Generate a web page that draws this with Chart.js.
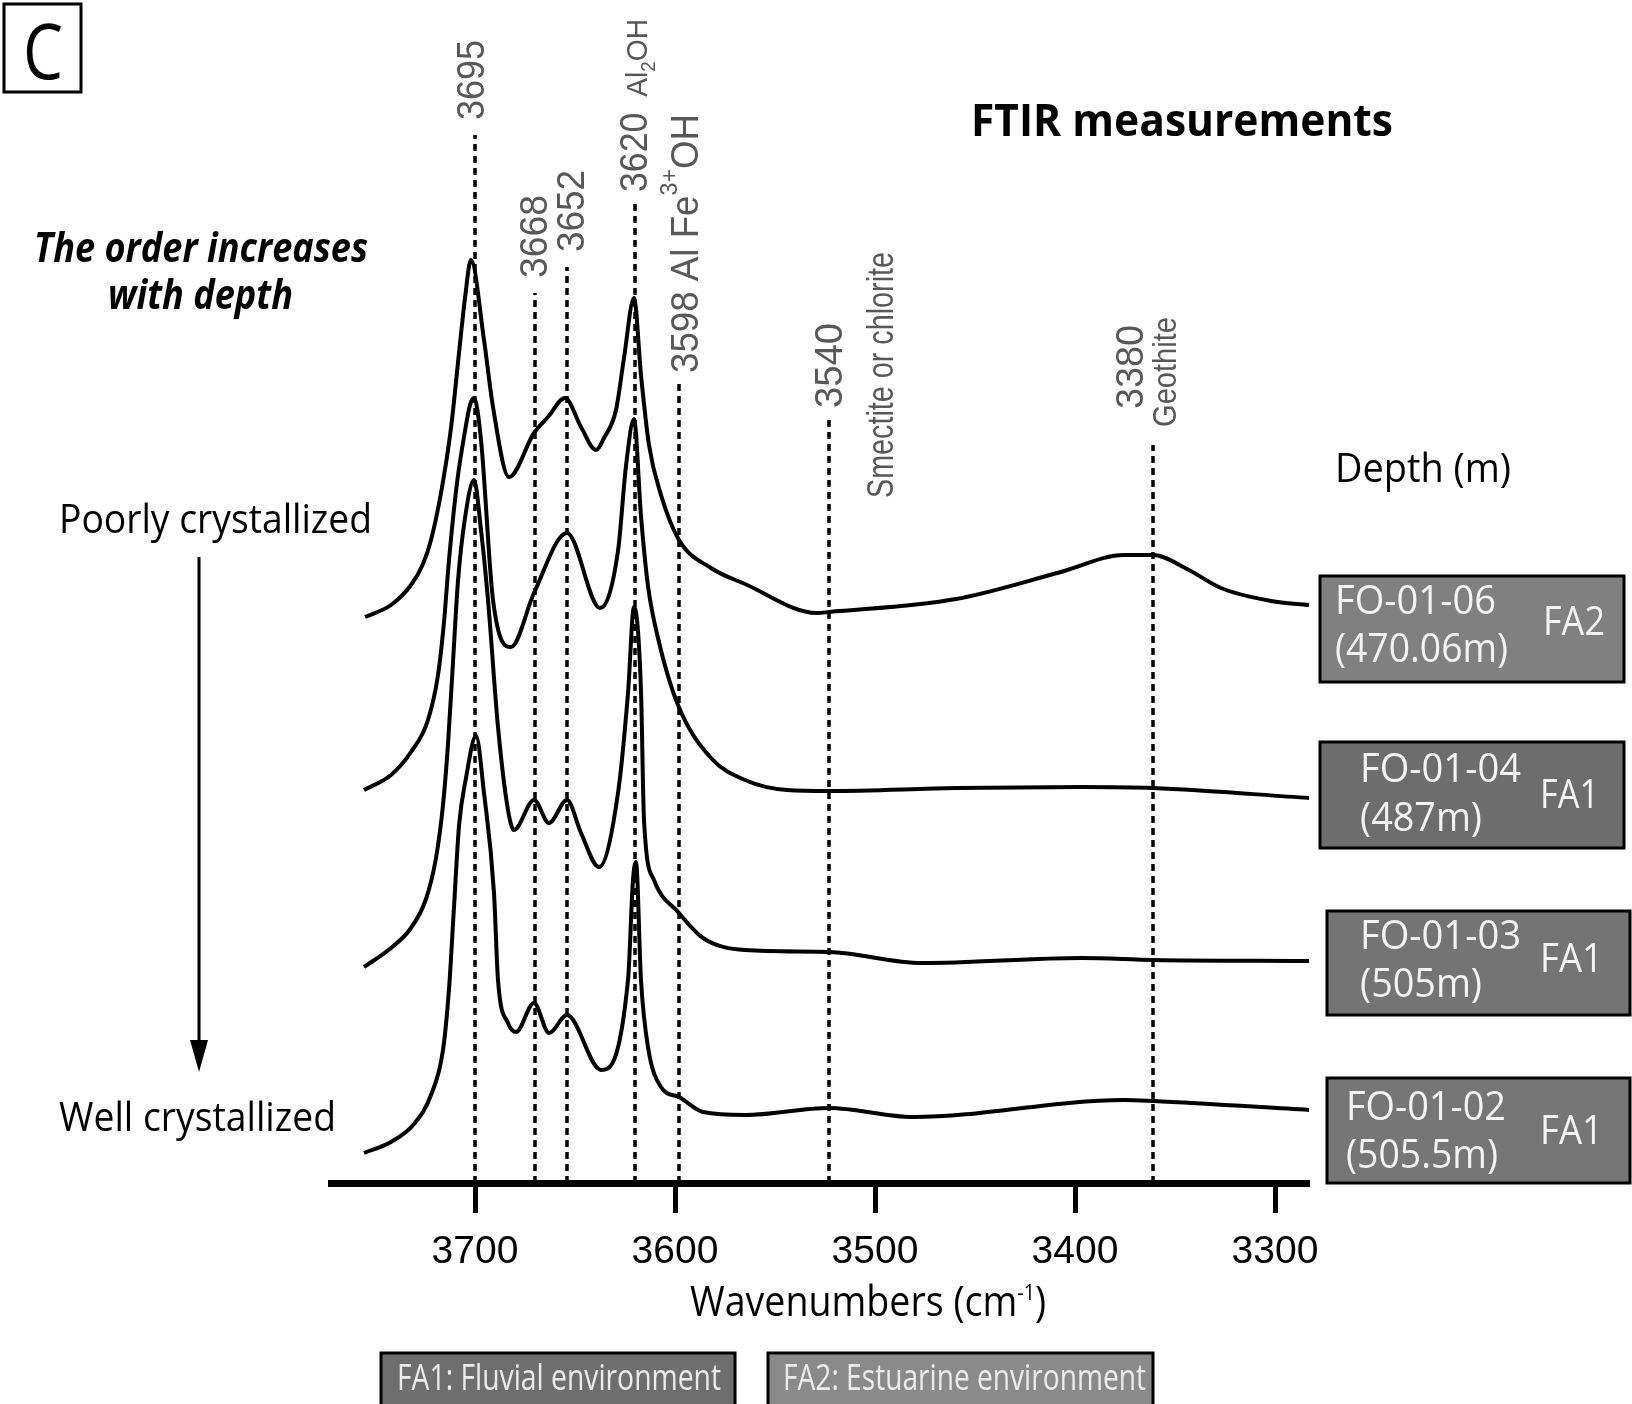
<!DOCTYPE html>
<html>
<head>
<meta charset="utf-8">
<style>
  html, body { margin: 0; padding: 0; background: #fff; }
  #wrap { width: 1632px; height: 1404px; }
</style>
<script src="https://cdn.jsdelivr.net/npm/chart.js@4.4.1/dist/chart.umd.min.js"></script>
</head>
<body>
<div id="wrap"><canvas id="ftir" width="1632" height="1404"></canvas></div>
<script>
// bottom axis ticks (cm-1)
const xTicks = [3700, 3600, 3500, 3400, 3300];

// spectra, offset absorbance (arbitrary units)
const wnFO0106 = [3755, 3742, 3732, 3726, 3722, 3717, 3712, 3708, 3705, 3702, 3695.5, 3691, 3683, 3670.5, 3663.5, 3655, 3647, 3639.5, 3635.5, 3629.5, 3625.5, 3620.5, 3617, 3613, 3607, 3598, 3582, 3565, 3529, 3523, 3459.5, 3407, 3375.5, 3361, 3344, 3327, 3302, 3283];
const absFO0106 = [566, 578, 598, 619, 643, 690, 755, 830, 885, 923, 843, 776, 706, 750, 766, 785, 756, 733, 745, 773, 825, 885, 808, 738, 688, 643, 615, 599, 570, 571, 584, 611, 628, 628, 614, 595, 582, 578];

const wnFO0104 = [3755.5, 3742, 3732, 3723.5, 3718.5, 3715.5, 3713, 3709, 3705, 3702.5, 3700.5, 3697, 3691, 3682, 3670.5, 3654, 3637.5, 3628.5, 3624.5, 3620.5, 3617, 3613.5, 3608.5, 3598.5, 3582, 3565, 3544, 3523, 3459.5, 3396.5, 3361, 3283];
const absFO0104 = [393, 408, 431, 463, 508, 561, 623, 700, 752, 778, 785, 743, 583, 536, 590, 650, 575, 632, 717, 764, 667, 597, 545, 478, 425, 403, 393, 392, 395, 396, 395, 385];

const wnFO0103 = [3755.5, 3742, 3732, 3724.5, 3719.5, 3716, 3713.5, 3711, 3708.5, 3705, 3700.5, 3697, 3693.5, 3688.5, 3683.5, 3680.5, 3670.5, 3663, 3654, 3647, 3638, 3628.5, 3623.5, 3620.5, 3617, 3615.5, 3610.5, 3598, 3586, 3565, 3523, 3476.5, 3396.5, 3361, 3283];
const absFO0103 = [216, 235, 255, 284, 325, 378, 439, 521, 602, 665, 703, 653, 583, 456, 373, 353, 383, 360, 383, 350, 316, 390, 490, 576, 492, 363, 303, 270, 245, 233, 231, 220, 225, 223, 222];

const wnFO0102 = [3755.5, 3742, 3730.5, 3722, 3716, 3713, 3710.5, 3708, 3704.5, 3699.5, 3695.5, 3690.5, 3688.5, 3683.5, 3679.5, 3670.5, 3663, 3654, 3637, 3623.5, 3621, 3619.5, 3617, 3613.5, 3607, 3598, 3586, 3565, 3523, 3481, 3375.5, 3361, 3283];
const absFO0102 = [30, 41, 59, 88, 133, 194, 276, 357, 405, 447, 390, 290, 203, 160, 151, 180, 150, 168, 113, 203, 303, 321, 203, 136, 96, 86, 71, 68, 75, 66, 83, 82, 73];

// band markers: where the dotted line stands, how high it reaches, its label
const bandPos = [3700, 3670, 3654, 3620, 3598, 3523, 3361];
const bandTop = [1048, 890, 916, 981, 800, 767, 738];
const bandLabel = ['3695', '3668', '3652', '3620', '3598', '3540', '3380'];

const samples = ['FO-01-06', 'FO-01-04', 'FO-01-03', 'FO-01-02'];
const depths = ['(470.06m)', '(487m)', '(505m)', '(505.5m)'];
const facies = ['FA2', 'FA1', 'FA1', 'FA1'];

const toPts = (wn, a) => wn.map((w, i) => ({ x: w, y: a[i] }));

const bandSets = bandPos.map((p, i) => ({
  data: [{ x: p, y: 0 }, { x: p, y: bandTop[i] }],
  borderColor: '#000', borderWidth: 3.5, borderDash: [7, 5],
  pointRadius: 0, tension: 0
}));

const spectra = [[wnFO0106, absFO0106], [wnFO0104, absFO0104], [wnFO0103, absFO0103], [wnFO0102, absFO0102]]
  .map(([w, a]) => ({
    data: toPts(w, a), borderColor: '#000', borderWidth: 4,
    pointRadius: 0, cubicInterpolationMode: 'monotone', fill: false
  }));

// text made of parts (sub/superscripts), squeezed to a given length, optionally vertical
function txt(ctx, parts, x, y, len, o) {
  o = o || {};
  const fam = o.family || "'Open Sans', sans-serif";
  const pre = (o.style || '') + ' ';
  ctx.save();
  let nat = 0;
  parts.forEach(p => { ctx.font = pre + p.size + 'px ' + fam; nat += ctx.measureText(p.t).width; });
  ctx.translate(x, y);
  if (o.vertical) ctx.rotate(-Math.PI / 2);
  if (len) ctx.scale(len / nat, 1);
  ctx.fillStyle = o.color || '#000';
  ctx.textBaseline = 'alphabetic';
  ctx.textAlign = 'left';
  let cx = 0;
  parts.forEach(p => {
    ctx.font = pre + p.size + 'px ' + fam;
    ctx.fillText(p.t, cx, p.dy || 0);
    cx += ctx.measureText(p.t).width;
  });
  ctx.restore();
}

function box(ctx, x, y, w, h, fill) {
  ctx.save();
  ctx.fillStyle = fill;
  ctx.fillRect(x, y, w, h);
  ctx.lineWidth = 3;
  ctx.strokeStyle = '#000';
  ctx.strokeRect(x, y, w, h);
  ctx.restore();
}

const annotations = {
  id: 'annotations',
  afterDraw(chart) {
    const ctx = chart.ctx;
    const xs = chart.scales.x, ys = chart.scales.y;
    const grey = '#585858';
    const lf = "'Liberation Sans', sans-serif";

    // band labels, vertical, placed from the dotted lines
    const dx = [9, 12, 17, 12, 19, 13, -10];
    const gap = [15, 15, 15, 10, 10, 8, 36];
    const len = [80, 83, 82, 173, 259, 85, 84];
    bandLabel.forEach((lab, i) => {
      const bx = xs.getPixelForValue(bandPos[i]) + dx[i];
      const by = ys.getPixelForValue(bandTop[i]) - gap[i];
      let parts = [{ t: lab, size: 38 }];
      if (i === 3) parts = parts.concat([{ t: '  Al', size: 30 }, { t: '2', size: 20, dy: 8 }, { t: 'OH', size: 30 }]);
      if (i === 4) parts = [{ t: lab + ' Al Fe', size: 38 }, { t: '3+', size: 24, dy: -21 }, { t: 'OH', size: 38 }];
      txt(ctx, parts, bx, by, len[i], { vertical: true, color: grey, family: lf });
    });
    txt(ctx, [{ t: 'Smectite or chlorite', size: 36 }], 893, 498, 246, { vertical: true, color: grey, family: lf });
    txt(ctx, [{ t: 'Geothite', size: 34 }], 1176, 427, 110, { vertical: true, color: grey, family: lf });

    // panel letter
    ctx.save();
    ctx.lineWidth = 3;
    ctx.strokeStyle = '#000';
    ctx.strokeRect(4, 4, 77, 88);
    ctx.restore();
    txt(ctx, [{ t: 'C', size: 76 }], 23, 79, 40);

    txt(ctx, [{ t: 'FTIR measurements', size: 44 }], 971, 136, 422, { style: 'bold' });
    txt(ctx, [{ t: 'The order increases', size: 42 }], 34, 262, 334, { style: 'italic bold' });
    txt(ctx, [{ t: 'with depth', size: 42 }], 108, 309, 185, { style: 'italic bold' });
    txt(ctx, [{ t: 'Poorly crystallized', size: 40 }], 59, 533, 313);
    txt(ctx, [{ t: 'Well crystallized', size: 40 }], 59, 1131, 277);
    txt(ctx, [{ t: 'Depth (m)', size: 40 }], 1335, 482, 176);

    // arrow
    ctx.save();
    ctx.strokeStyle = '#000';
    ctx.fillStyle = '#000';
    ctx.lineWidth = 3;
    ctx.beginPath();
    ctx.moveTo(199, 557);
    ctx.lineTo(199, 1045);
    ctx.stroke();
    ctx.beginPath();
    ctx.moveTo(190, 1040);
    ctx.lineTo(208, 1040);
    ctx.lineTo(199, 1072);
    ctx.closePath();
    ctx.fill();
    ctx.restore();

    // axis title
    txt(ctx, [{ t: 'Wavenumbers (cm', size: 42 }, { t: '-1', size: 22, dy: -16 }, { t: ')', size: 42 }], 690, 1316, 356);

    // sample boxes
    const bx = [[1320, 576, 304, 106, '#808080'], [1320, 742, 304, 106, '#6d6d6d'],
                [1327, 911, 303, 104, '#747474'], [1327, 1078, 303, 105, '#767676']];
    const tl = [[1335, 614, 161, 1335, 662, 173, 1543, 635, 62],
                [1360, 782, 161, 1360, 831, 122, 1540, 808, 59],
                [1360, 949, 161, 1360, 997, 122, 1540, 972, 63],
                [1346, 1120, 160, 1346, 1168, 152, 1540, 1144, 63]];
    const wc = { color: '#f4f4f4' };
    samples.forEach((s, i) => {
      box(ctx, ...bx[i]);
      const t = tl[i];
      txt(ctx, [{ t: s, size: 40 }], t[0], t[1], t[2], wc);
      txt(ctx, [{ t: depths[i], size: 40 }], t[3], t[4], t[5], wc);
      txt(ctx, [{ t: facies[i], size: 40 }], t[6], t[7], t[8], wc);
    });

    // facies legend
    box(ctx, 381, 1353, 354, 56, '#6e6e6e');
    box(ctx, 768, 1353, 385, 56, '#8a8a8a');
    txt(ctx, [{ t: 'FA1: Fluvial environment', size: 36 }], 397, 1390, 324, { color: '#ececec' });
    txt(ctx, [{ t: 'FA2: Estuarine environment', size: 36 }], 783, 1390, 363, { color: '#ececec' });
  }
};

const ctx = document.getElementById('ftir').getContext('2d');
new Chart(ctx, {
  type: 'line',
  data: { datasets: [...bandSets, ...spectra] },
  options: {
    responsive: false,
    animation: false,
    devicePixelRatio: 1,
    events: [],
    layout: { padding: { left: 331, right: 323, top: 100, bottom: 0 } },
    plugins: { legend: { display: false }, tooltip: { enabled: false }, title: { display: false } },
    scales: {
      x: {
        type: 'linear', reverse: true, min: 3283, max: 3772,
        afterBuildTicks: s => { s.ticks = xTicks.map(v => ({ value: v })); },
        afterFit: s => { s.height = 221; },
        border: { display: true, color: '#000', width: 7 },
        grid: { display: true, drawOnChartArea: false, drawTicks: true, tickLength: 30, tickWidth: 5, tickColor: '#000' },
        ticks: {
          color: '#000', font: { family: "'Liberation Sans', sans-serif", size: 39 }, padding: 16, maxRotation: 0,
          callback: v => String(v)
        }
      },
      y: { display: false, min: 0, max: 1083 }
    }
  },
  plugins: [annotations]
});
</script>
</body>
</html>
